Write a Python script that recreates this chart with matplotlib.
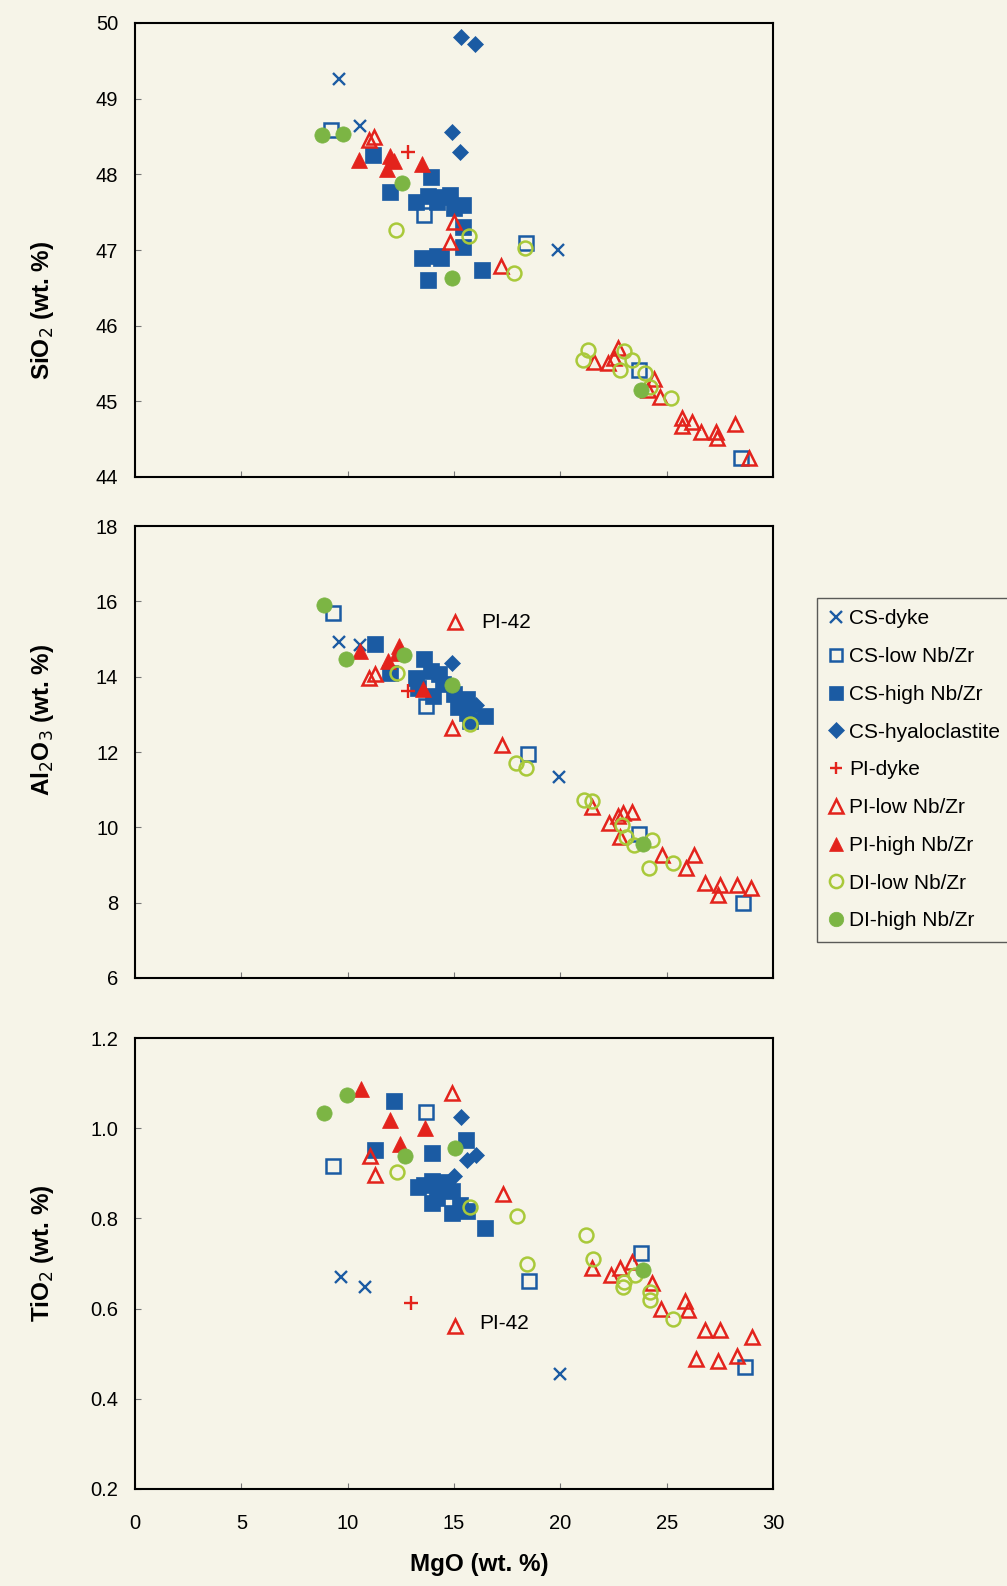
import matplotlib
matplotlib.use('Agg')
import matplotlib.pyplot as plt
from matplotlib.ticker import FormatStrFormatter

plt.rcParams['font.family'] = ['Liberation Sans', 'DejaVu Sans']

# ---- SiO2 vs MgO ----
si_cs_dyke = [(9.6, 49.26), (10.6, 48.64), (19.9, 47.0)]
si_cs_low = [(9.2, 48.59), (13.6, 47.46), (18.4, 47.09), (23.7, 45.41), (28.5, 44.25)]
si_cs_high = [(11.2, 48.26), (13.9, 47.97), (12.0, 47.76), (13.2, 47.64), (13.8, 47.71),
              (14.8, 47.73), (15.4, 47.59), (14.2, 47.64), (15.4, 47.31), (15.4, 47.04),
              (13.5, 46.9), (14.4, 46.9), (13.8, 46.6), (16.3, 46.74), (14.2, 46.92),
              (14.5, 47.7), (15.0, 47.55)]
si_cs_hyalo = [(15.35, 49.81), (16.0, 49.72), (14.9, 48.56), (15.3, 48.29)]
si_pi_dyke = [(12.85, 48.29)]
si_pi_low = [(11.0, 48.46), (11.25, 48.49), (15.0, 47.37), (14.8, 47.11), (17.2, 46.79),
             (21.6, 45.52), (22.25, 45.51), (22.7, 45.71), (22.5, 45.57), (24.4, 45.29),
             (24.1, 45.15), (24.7, 45.06), (25.7, 44.78), (25.7, 44.67), (26.2, 44.73),
             (26.6, 44.6), (27.3, 44.6), (27.35, 44.51), (28.2, 44.7), (28.85, 44.25)]
si_pi_high = [(10.55, 48.19), (12.0, 48.24), (12.2, 48.17), (11.85, 48.07), (13.5, 48.14)]
si_di_low = [(12.25, 47.26), (15.7, 47.19), (18.35, 47.02), (17.8, 46.69), (21.3, 45.68),
             (21.05, 45.55), (23.0, 45.66), (23.35, 45.55), (22.8, 45.42), (24.0, 45.38),
             (24.2, 45.19), (25.2, 45.04)]
si_di_high = [(8.8, 48.52), (9.8, 48.53), (12.55, 47.89), (14.9, 46.63), (23.8, 45.15)]

# ---- Al2O3 vs MgO ----
al_cs_dyke = [(9.6, 14.91), (10.6, 14.85), (19.95, 11.33)]
al_cs_low = [(9.3, 15.68), (13.7, 13.22), (18.5, 11.95), (23.7, 9.81), (28.6, 8.0)]
al_cs_high = [(11.3, 14.86), (13.6, 14.46), (12.0, 14.11), (13.2, 13.97), (13.9, 14.15),
              (14.3, 14.06), (13.3, 13.71), (14.0, 13.49), (15.0, 13.53), (15.6, 13.4),
              (15.6, 13.04), (15.75, 12.82), (16.45, 12.95), (14.5, 13.8), (15.2, 13.2)]
al_cs_hyalo = [(14.9, 14.37), (16.05, 13.26)]
al_pi_dyke = [(12.85, 13.62)]
al_pi_low = [(15.05, 15.44), (11.0, 13.96), (11.3, 14.08), (14.9, 12.64), (17.25, 12.18),
             (21.5, 10.55), (22.3, 10.11), (22.7, 10.29), (22.95, 10.37), (23.35, 10.42),
             (22.8, 9.75), (24.8, 9.26), (26.3, 9.26), (25.9, 8.91), (26.8, 8.53),
             (27.5, 8.48), (27.4, 8.21), (28.3, 8.46), (28.95, 8.39)]
al_pi_high = [(10.6, 14.69), (11.9, 14.42), (12.3, 14.64), (13.55, 13.66), (12.4, 14.82)]
al_di_low = [(12.3, 14.11), (15.75, 12.75), (17.9, 11.7), (18.4, 11.57), (21.1, 10.73),
             (21.5, 10.69), (22.9, 10.05), (23.1, 9.75), (23.45, 9.53), (24.3, 9.66),
             (25.3, 9.04), (24.15, 8.91)]
al_di_high = [(8.9, 15.91), (9.9, 14.46), (12.65, 14.58), (14.9, 13.78), (23.9, 9.57)]

# ---- TiO2 vs MgO ----
ti_cs_dyke = [(9.7, 0.669), (10.8, 0.647), (20.0, 0.456)]
ti_cs_low = [(13.7, 1.035), (9.3, 0.917), (23.8, 0.724), (18.55, 0.662), (28.7, 0.471)]
ti_cs_high = [(12.2, 1.06), (11.3, 0.951), (13.95, 0.945), (15.55, 0.973), (13.3, 0.87),
              (13.95, 0.884), (14.2, 0.846), (13.95, 0.835), (14.9, 0.861), (14.9, 0.813),
              (15.6, 0.817), (16.45, 0.779), (14.65, 0.88), (13.6, 0.875), (14.3, 0.87),
              (15.3, 0.83)]
ti_cs_hyalo = [(15.35, 1.024), (15.6, 0.93), (16.05, 0.94), (15.0, 0.895)]
ti_pi_dyke = [(13.0, 0.613)]
ti_pi_low = [(14.9, 1.077), (11.05, 0.939), (11.3, 0.897), (17.3, 0.854), (15.05, 0.562),
             (21.5, 0.69), (22.4, 0.675), (22.8, 0.69), (23.35, 0.704), (24.3, 0.657),
             (24.75, 0.6), (25.85, 0.617), (26.0, 0.597), (26.8, 0.553), (27.5, 0.553),
             (29.0, 0.538), (26.4, 0.489), (27.4, 0.483), (28.3, 0.495)]
ti_pi_high = [(10.65, 1.086), (12.0, 1.019), (13.65, 1.001), (12.45, 0.964)]
ti_di_low = [(12.3, 0.902), (15.75, 0.826), (17.95, 0.806), (21.2, 0.763), (21.55, 0.709),
             (18.45, 0.699), (23.0, 0.659), (22.95, 0.647), (23.5, 0.674), (24.2, 0.637),
             (24.2, 0.62), (25.3, 0.578)]
ti_di_high = [(9.95, 1.073), (8.9, 1.034), (12.7, 0.939), (15.05, 0.957), (23.9, 0.686)]

labels = ['CS-dyke', 'CS-low Nb/Zr', 'CS-high Nb/Zr', 'CS-hyaloclastite', 'PI-dyke',
          'PI-low Nb/Zr', 'PI-high Nb/Zr', 'DI-low Nb/Zr', 'DI-high Nb/Zr']

blue = '#1b5ba3'
red = '#e3231c'
green = '#7cb544'
lgreen = '#a9c93a'
paper = '#f6f4e8'

# marker, size, face, edge, edge width
styles = [
    ('x', 9, blue, blue, 1.7),
    ('s', 9.5, 'none', blue, 1.8),
    ('s', 11, blue, blue, 0.5),
    ('D', 8.5, blue, blue, 0.5),
    ('+', 9.5, red, red, 1.7),
    ('^', 10, 'none', red, 1.8),
    ('^', 11, red, red, 0.5),
    ('o', 10, 'none', lgreen, 1.8),
    ('o', 11, green, green, 0.5),
]

panels = [
    [si_cs_dyke, si_cs_low, si_cs_high, si_cs_hyalo, si_pi_dyke, si_pi_low, si_pi_high, si_di_low, si_di_high],
    [al_cs_dyke, al_cs_low, al_cs_high, al_cs_hyalo, al_pi_dyke, al_pi_low, al_pi_high, al_di_low, al_di_high],
    [ti_cs_dyke, ti_cs_low, ti_cs_high, ti_cs_hyalo, ti_pi_dyke, ti_pi_low, ti_pi_high, ti_di_low, ti_di_high],
]

W, H = 1007, 1586
fig = plt.figure(figsize=(W / 100, H / 100), dpi=100, facecolor=paper)

boxes = [(23, 477), (526, 978), (1038, 1489)]
ylims = [(44, 50), (6, 18), (0.2, 1.2)]
yticks = [range(44, 51), range(6, 19, 2), [0.2, 0.4, 0.6, 0.8, 1.0, 1.2]]
ylabels = ['SiO$_2$ (wt. %)', 'Al$_2$O$_3$ (wt. %)', 'TiO$_2$ (wt. %)']
ylab_y = [0.366, 0.57, 0.522]

axes = []
for k in range(3):
    top, bot = boxes[k]
    ax = fig.add_axes([135 / W, 1 - bot / H, 638 / W, (bot - top) / H])
    ax.set_facecolor(paper)
    for group, (m, ms, fc, ec, lw) in zip(panels[k], styles):
        xs = [p[0] for p in group]
        ys = [p[1] for p in group]
        ax.plot(xs, ys, linestyle='none', marker=m, markersize=ms,
                markerfacecolor=fc, markeredgecolor=ec, markeredgewidth=lw,
                color=ec, clip_on=False)
    ax.set_xlim(0, 30)
    ax.set_ylim(*ylims[k])
    ax.set_xticks(range(0, 31, 5))
    ax.set_yticks(list(yticks[k]))
    ax.tick_params(direction='in', length=4, width=0.8, labelsize=14.5, pad=12,
                   color='#777777')
    ax.tick_params(axis='x', pad=18)
    for s in ax.spines.values():
        s.set_linewidth(1.5)
    ax.set_ylabel(ylabels[k], fontsize=17.5, fontweight='bold')
    ax.yaxis.set_label_coords(-0.124, ylab_y[k])
    if k < 2:
        ax.tick_params(axis='x', labelbottom=False)
    axes.append(ax)

axes[2].yaxis.set_major_formatter(FormatStrFormatter('%.1f'))
axes[2].set_xlabel('MgO (wt. %)', fontsize=17.5, fontweight='bold')
axes[2].xaxis.set_label_coords(0.539, -0.143)

axes[1].text(16.3, 15.44, 'PI-42', fontsize=15, va='center')
axes[2].text(16.2, 0.567, 'PI-42', fontsize=15, va='center')

handles = axes[0].get_lines()
leg = fig.legend(handles, labels, loc='upper left', bbox_to_anchor=(817 / W, 1 - 598 / H),
                 fontsize=15, frameon=True, fancybox=False, labelspacing=0.9,
                 handlelength=0.7, handletextpad=0.3, borderpad=0.55, markerscale=0.95,
                 borderaxespad=0)
leg.get_frame().set_edgecolor('#333333')
leg.get_frame().set_facecolor(paper)
leg.get_frame().set_linewidth(1.0)

fig.savefig('out.png', dpi=100, facecolor=paper)
